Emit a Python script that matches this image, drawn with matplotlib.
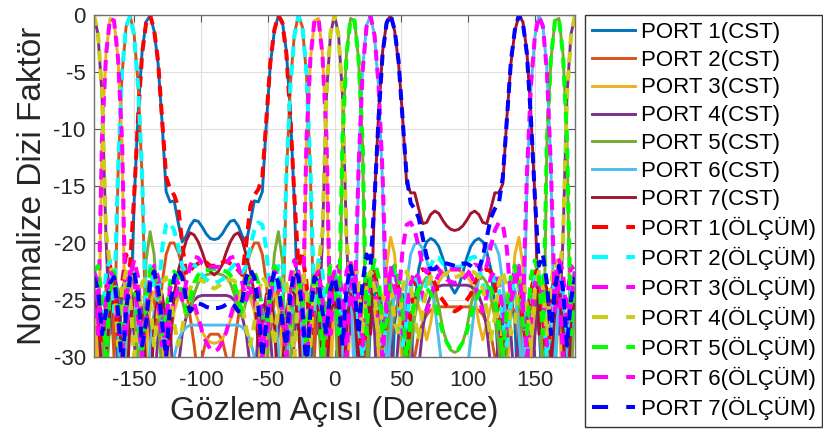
import numpy as np
import matplotlib
matplotlib.use('Agg')
import matplotlib.pyplot as plt
from matplotlib.lines import Line2D

plt.rcParams['font.family'] = ['Liberation Sans', 'DejaVu Sans']
plt.rcParams['axes.unicode_minus'] = False

# observation angle grid (degrees)
angle_deg = list(range(-180, 181, 3))

# ---- CST (simulated) normalised array factor, dB ----
port1_cst = [-25, -27, -35, -27, -24.5, -26, -31, -24, -23, -28, -16.5, -8.7, -3.2, -0.6, -0.05, -1.4, -4.3, -9.5, -15.5, -16.4, -16.3, -18.2, -19.9, -19.4, -18.5, -18.0, -18.1, -18.6, -19.2, -19.6, -19.7,
             -19.6, -19.2, -18.6, -18.1, -18.0, -18.5, -19.4, -19.9, -18.2, -16.3, -16.4, -15.5, -9.5, -4.3, -1.4, -0.05, -0.6, -3.2, -8.7, -16.5, -28, -23, -24, -31, -26, -24.5, -27, -35, -27, -25, -26, -32, -30, -26, -24.8, -25.5, -30, -34, -27, -24.5, -24, -26, -31, -35, -27, -24.5, -24.5, -27, -31, -25.5, -22.3, -20.8, -19.9, -19.6, -19.8, -20.3, -21.3, -22.6, -23.8,
             -24.4, -23.8, -22.6, -21.3, -20.3, -19.8, -19.6, -19.9, -20.8, -22.3, -25.5, -31, -27, -24.5, -24.5, -27, -35, -31, -26, -24, -24.5, -27, -34, -30, -25.5, -24.8, -26, -30, -32, -26, -25]
port2_cst = [-25, -28, -31, -24, -23, -30, -14, -5.2, -1.05, -0.02, -1.65, -6.0, -14.2, -29, -24, -25, -28, -23.5, -21.0, -20.0, -20.0, -20.8, -22, -24, -26.5, -29, -32, -30, -28.5, -28, -28,
             -28, -28.5, -30, -32, -29, -26.5, -24, -22, -20.8, -20.0, -20.0, -21.0, -23.5, -28, -25, -24, -29, -14.2, -6.0, -1.65, -0.02, -1.05, -5.2, -14, -30, -23, -24, -31, -28, -25, -26, -32, -29, -25.5, -25, -28, -34, -28, -25, -24.8, -27, -31, -35, -29, -26, -25.5, -27, -30, -34, -30, -28, -27, -26.3, -25.9, -25.7, -25.6, -25.6, -25.6, -25.6,
             -25.6, -25.6, -25.6, -25.6, -25.6, -25.7, -25.9, -26.3, -27, -28, -30, -34, -30, -27, -25.5, -26, -29, -35, -31, -27, -24.8, -25, -28, -34, -28, -25, -25.5, -29, -32, -26, -25]
port3_cst = [-24, -33, -10.6, -3.4, -0.3, -0.5, -3.9, -11.3, -33, -25, -22.5, -24, -31, -30, -25.5, -24.3, -25.5, -29, -33, -28.5, -26, -24.8, -24.4, -24.5, -25.0, -25.9, -26.8, -27.8, -28.4, -28.7, -28.8,
             -28.7, -28.4, -27.8, -26.8, -25.9, -25.0, -24.5, -24.4, -24.8, -26, -28.5, -33, -29, -25.5, -24.3, -25.5, -30, -31, -24, -22.5, -25, -33, -11.3, -3.9, -0.5, -0.3, -3.4, -10.6, -33, -24, -23.5, -27, -33, -26.5, -25, -28, -35, -28, -25.5, -26, -30, -33, -22, -19.5, -21, -26, -32, -30, -26.5, -25, -25.5, -27, -28.5, -27, -24.8, -23.4, -22.9, -22.6, -22.4,
             -22.4, -22.4, -22.6, -22.9, -23.4, -24.8, -27, -28.5, -27, -25.5, -25, -26.5, -30, -32, -26, -21, -19.5, -22, -33, -30, -26, -25.5, -28, -35, -28, -25, -26.5, -33, -27, -23.5, -24]
port4_cst = [0, -1.7, -7.0, -19.6, -28, -22.5, -24.5, -33, -26.5, -25, -28, -36, -27.5, -26, -27.5, -33, -28, -25.3, -25.5, -27.5, -33, -31, -28, -26.5, -25.5, -25.0, -24.7, -24.6, -24.6, -24.6, -24.6,
             -24.6, -24.6, -24.6, -24.7, -25.0, -25.5, -26.5, -28, -31, -33, -27.5, -25.5, -25.3, -28, -33, -27.5, -26, -27.5, -36, -28, -25, -26.5, -33, -24.5, -22.5, -28, -19.6, -7.0, -1.7, 0, -1.7, -7.0, -19.6, -28, -22.5, -24.5, -33, -26.5, -25, -28, -36, -27.5, -26, -27.5, -33, -28, -25.3, -25.5, -27.5, -33, -31, -27.5, -25.6, -24.6, -24.1, -23.8, -23.7, -23.7, -23.7,
             -23.7, -23.7, -23.7, -23.7, -23.8, -24.1, -24.6, -25.6, -27.5, -31, -33, -27.5, -25.5, -25.3, -28, -33, -27.5, -26, -27.5, -36, -28, -25, -26.5, -33, -24.5, -22.5, -28, -19.6, -7.0, -1.7, 0]
port5_cst = [-24, -23.5, -27, -33, -26.5, -25, -28, -35, -28, -25.5, -26, -30, -33, -21.5, -19, -21, -26, -32, -30, -26.5, -25, -24.5, -25, -26.5, -26, -24.5, -23.5, -23.0, -22.8, -22.7, -22.7,
             -22.7, -22.8, -23.0, -23.5, -24.5, -26, -26.5, -25, -24.5, -25, -26.5, -30, -32, -26, -21, -19, -21.5, -33, -30, -26, -25.5, -28, -35, -28, -25, -26.5, -33, -27, -23.5, -24, -33, -10.6, -3.4, -0.3, -0.5, -3.9, -11.3, -33, -25, -22.5, -24, -31, -30, -25.5, -24.3, -25.5, -29, -33, -29, -26.5, -24.8, -23.5, -23.0, -23.2, -24.0, -25.5, -27.5, -28.7, -29.4,
             -29.6, -29.4, -28.7, -27.5, -25.5, -24.0, -23.2, -23.0, -23.5, -24.8, -26.5, -29, -33, -29, -25.5, -24.3, -25.5, -30, -31, -24, -22.5, -25, -33, -11.3, -3.9, -0.5, -0.3, -3.4, -10.6, -33, -24]
port6_cst = [-25, -26, -32, -29, -25.5, -25, -28, -34, -28, -25, -24.8, -27, -31, -35, -29, -26, -25.5, -27, -30, -34, -30, -28.5, -27.8, -27.4, -27.2, -27.2, -27.2, -27.2, -27.2, -27.2, -27.2,
             -27.2, -27.2, -27.2, -27.2, -27.2, -27.2, -27.4, -27.8, -28.5, -30, -34, -30, -27, -25.5, -26, -29, -35, -31, -27, -24.8, -25, -28, -34, -28, -25, -25.5, -29, -32, -26, -25, -28, -31, -24, -23, -33, -13.2, -4.8, -0.9, -0.05, -1.9, -6.4, -15, -32, -28, -24, -25, -28, -23.5, -21.0, -20.1, -20.0, -20.5, -21.5, -23.0, -25.5, -28.5, -31.5, -33.5, -35,
             -36, -35, -33.5, -31.5, -28.5, -25.5, -23.0, -21.5, -20.5, -20.0, -20.1, -21.0, -23.5, -28, -25, -24, -28, -32, -15, -6.4, -1.9, -0.05, -0.9, -4.8, -13.2, -33, -23, -24, -31, -28, -25]
port7_cst = [-25, -26, -32, -30, -26, -24.8, -25.5, -30, -34, -27, -24.5, -24, -26, -31, -34, -27, -24.5, -24.5, -27, -29, -24.5, -22.5, -21.1, -19.8, -19.1, -19.3, -19.9, -20.8, -21.9, -22.5, -22.8,
             -22.5, -21.9, -20.8, -19.9, -19.3, -19.1, -19.8, -21.1, -22.5, -24.5, -29, -27, -24.5, -24.5, -27, -34, -31, -26, -24, -24.5, -27, -34, -30, -25.5, -24.8, -26, -30, -32, -26, -25, -27, -35, -27, -24.5, -26, -31, -24, -23, -28, -16.0, -8.7, -3.2, -0.6, -0.05, -1.4, -4.3, -9.0, -14.8, -15.6, -15.6, -17.0, -18.3, -18.2, -17.5, -17.2, -17.4, -18.0, -18.5, -18.8,
             -18.9, -18.8, -18.5, -18.0, -17.4, -17.2, -17.5, -18.2, -18.3, -17.0, -15.6, -15.6, -14.8, -9.0, -4.3, -1.4, -0.05, -0.6, -3.2, -8.7, -16.0, -28, -23, -24, -31, -26, -24.5, -27, -35, -27, -25]

# ---- measured (ÖLÇÜM) normalised array factor, dB ----
port1_meas = [-23, -25, -29, -24, -22, -24, -28, -23.5, -21, -22, -16.0, -9.0, -3.4, -0.7, 0, -1.3, -4.1, -9.2, -14.2, -15.3, -15.8, -16.8, -20, -22.8, -22.4, -22, -21.8, -21.6, -21.7, -22, -22,
              -22, -21.7, -21.6, -21.8, -22, -22.4, -22.8, -20, -16.8, -15.8, -15.3, -14.2, -9.2, -4.1, -1.3, 0, -0.7, -3.4, -9.0, -16.0, -22, -21, -23.5, -28, -24, -22, -24, -29, -25, -23, -24, -28, -26, -23.5, -23, -26, -31, -26, -23, -22.5, -24.5, -29, -27, -23.5, -22.5, -24, -28, -30, -26, -23.5, -22.5, -22.3, -22.5, -22.8, -23.5, -24.5, -25, -25.5, -25.8,
              -26, -25.8, -25.5, -25, -24.5, -23.5, -22.8, -22.5, -22.3, -22.5, -23.5, -26, -30, -28, -24, -22.5, -23.5, -27, -29, -24.5, -22.5, -23, -26, -31, -26, -23, -23.5, -26, -28, -24, -23]
port2_meas = [-22.5, -25, -27, -22.5, -21.5, -26, -13.5, -5.0, -1.0, -0.1, -1.8, -6.2, -14.0, -26, -22, -24, -25, -20.5, -18.4, -18.2, -18.9, -20.3, -22, -22.6, -22.0, -21.9, -22.3, -22.8, -23.2, -23.4, -23.5,
              -23.4, -23.2, -22.8, -22.3, -21.9, -22.0, -22.6, -22, -20.3, -18.9, -18.2, -18.4, -20.5, -25, -24, -22, -26, -14.0, -6.2, -1.8, -0.1, -1.0, -5.0, -13.5, -26, -21.5, -22.5, -27, -25, -22.5, -23.5, -28, -25, -22.5, -23, -27, -30, -25, -22.5, -23, -26.5, -30, -26, -23, -22.5, -25, -29, -27, -24, -23, -23.5, -25, -23.5, -22, -21.2, -21.3, -21.8, -22.0, -22.1,
              -22.1, -22.1, -22.0, -21.8, -21.3, -21.2, -22, -23.5, -25, -23.5, -23, -24, -27, -29, -25, -22.5, -23, -26, -30, -26.5, -23, -22.5, -25, -30, -27, -23, -22.5, -25, -28, -23.5, -22.5]
port3_meas = [-22.5, -28, -10.8, -3.5, -0.3, -0.5, -3.8, -11.0, -28, -23, -21.5, -23, -28, -27, -23.5, -22, -23, -26, -30, -27, -25, -24, -23.8, -24, -24.4, -25.3, -26.5, -27.8, -28.7, -29.3, -29.5,
              -29.3, -28.7, -27.8, -26.5, -25.3, -24.4, -24, -23.8, -24, -25, -27, -30, -26, -23, -22, -23.5, -27, -28, -23, -21.5, -23, -28, -11.0, -3.8, -0.5, -0.3, -3.5, -10.8, -28, -22.5, -22, -25, -30, -24, -22.5, -25, -29, -25, -23, -23.5, -27, -30, -25, -22.5, -22, -24.5, -28, -26, -23.5, -22.5, -23, -24.5, -26, -25, -23.5, -22.8, -22.5, -22.4, -22.3,
              -22.3, -22.3, -22.4, -22.5, -22.8, -23.5, -25, -26, -24.5, -23, -22.5, -23.5, -26, -28, -24.5, -22, -22.5, -25, -30, -27, -23.5, -23, -25, -29, -25, -22.5, -24, -30, -25, -22, -22.5]
port4_meas = [0, -1.6, -6.8, -19.0, -22, -23, -29, -24, -22.5, -24.5, -30, -27, -23.5, -23, -25, -29, -26, -23.5, -23, -24.5, -27, -29, -27.5, -25.5, -24, -23.3, -23.2, -23.3, -23.5, -23.8, -24,
              -23.8, -23.5, -23.3, -23.2, -23.3, -24, -25.5, -27.5, -29, -27, -24.5, -23, -23.5, -26, -29, -25, -23, -23.5, -27, -30, -24.5, -22.5, -24, -29, -23, -22, -19.0, -6.8, -1.6, 0, -1.8, -7.2, -19.8, -23, -21.5, -23.5, -28, -24, -22.5, -24, -29, -25.5, -23, -23.5, -27, -28, -24, -22.5, -23.5, -26.5, -28.5, -26, -24, -23, -22.6, -22.5, -22.6, -22.8, -22.9,
              -23, -22.9, -22.8, -22.6, -22.5, -22.6, -23, -24, -26, -28.5, -26.5, -23.5, -22.5, -24, -28, -27, -23.5, -23, -25.5, -29, -24, -22.5, -24, -28, -23.5, -21.5, -23, -19.8, -7.2, -1.8, 0]
port5_meas = [-22.5, -22, -25, -30, -24, -22.5, -25, -29, -25, -23, -23.5, -27, -30, -25, -22.5, -22, -24.5, -28, -26, -23.5, -22.5, -23, -24.5, -26, -25, -23.5, -22.8, -22.5, -22.4, -22.3, -22.3,
              -22.3, -22.4, -22.5, -22.8, -23.5, -25, -26, -24.5, -23, -22.5, -23.5, -26, -28, -24.5, -22, -22.5, -25, -30, -27, -23.5, -23, -25, -29, -25, -22.5, -24, -30, -25, -22, -22.5, -28, -10.8, -3.5, -0.3, -0.5, -3.8, -11.0, -28, -23, -21.5, -23, -28, -27, -23.5, -22, -23, -26, -30, -27, -25, -24, -23.8, -24, -24.4, -25.3, -26.5, -27.8, -28.7, -29.3,
              -29.5, -29.3, -28.7, -27.8, -26.5, -25.3, -24.4, -24, -23.8, -24, -25, -27, -30, -26, -23, -22, -23.5, -27, -28, -23, -21.5, -23, -28, -11.0, -3.8, -0.5, -0.3, -3.5, -10.8, -28, -22.5]
port6_meas = [-22.5, -23.5, -28, -25, -22.5, -23, -27, -30, -25, -22.5, -23, -26.5, -30, -26, -23, -22.5, -25, -29, -27, -24, -23, -23.5, -25, -23.5, -22, -21.2, -21.3, -21.8, -22.0, -22.1, -22.1,
              -22.1, -22.0, -21.8, -21.3, -21.2, -22, -23.5, -25, -23.5, -23, -24, -27, -29, -25, -22.5, -23, -26, -30, -26.5, -23, -22.5, -25, -30, -27, -23, -22.5, -25, -28, -23.5, -22.5, -25, -27, -22.5, -21.5, -26, -13.5, -5.0, -1.0, -0.1, -1.8, -6.2, -14.0, -26, -22, -24, -25, -20.5, -18.4, -18.2, -18.9, -20.3, -22, -22.6, -22.0, -21.9, -22.3, -22.8, -23.2, -23.4,
              -23.5, -23.4, -23.2, -22.8, -22.3, -21.9, -22.0, -22.6, -22, -20.3, -18.9, -18.2, -18.4, -20.5, -25, -24, -22, -26, -14.0, -6.2, -1.8, -0.1, -1.0, -5.0, -13.5, -26, -21.5, -22.5, -27, -25, -22.5]
port7_meas = [-23, -24, -28, -26, -23.5, -23, -26, -31, -26, -23, -22.5, -24.5, -29, -27, -23.5, -22.5, -24, -27, -30, -25.5, -23, -22.3, -23, -25, -26, -25.5, -25.3, -25.4, -25.6, -25.7, -25.7,
              -25.7, -25.6, -25.4, -25.3, -25.5, -26, -25, -23, -22.3, -23, -25.5, -30, -27, -24, -22.5, -23.5, -27, -29, -24.5, -22.5, -23, -26, -31, -26, -23, -23.5, -26, -28, -24, -23, -25, -29, -24, -22, -24, -28, -23.5, -21, -22, -16.0, -9.0, -3.4, -0.7, 0, -1.3, -4.1, -9.2, -14.2, -16.5, -17.0, -17.8, -19.5, -21.2, -22.3, -22.3, -22, -21.8, -21.8, -21.9,
              -22, -21.9, -21.8, -21.8, -22, -22.3, -22.3, -21.2, -19.5, -17.8, -17.0, -16.5, -14.2, -9.2, -4.1, -1.3, 0, -0.7, -3.4, -9.0, -16.0, -22, -21, -23.5, -28, -24, -22, -24, -29, -25, -23]

cst_series = [port1_cst, port2_cst, port3_cst, port4_cst, port5_cst, port6_cst, port7_cst]
meas_series = [port1_meas, port2_meas, port3_meas, port4_meas, port5_meas, port6_meas, port7_meas]
cst_labels = [f'PORT {k}(CST)' for k in range(1, 8)]
meas_labels = [f'PORT {k}(ÖLÇÜM)' for k in range(1, 8)]
cst_colors = ['#0072BD', '#D95319', '#EDB120', '#7E2F8E', '#77AC30', '#4DBEEE', '#A2142F']
meas_colors = ['#FF0000', '#00FFFF', '#FF00FF', '#CCCC1A', '#00FF00', '#FF00FF', '#0000FF']

fig = plt.figure(figsize=(8.23, 4.41), dpi=100)
ax = fig.add_axes([94 / 823, 84 / 441, 481 / 823, 342 / 441])

handles = []
for vals, col, lab in zip(cst_series, cst_colors, cst_labels):
    ln, = ax.plot(angle_deg, vals, color=col, lw=2.1, solid_joinstyle='round', label=lab)
    handles.append(ln)
for vals, col, lab in zip(meas_series, meas_colors, meas_labels):
    ax.plot(angle_deg, vals, color=col, lw=2.9, linestyle=(0, (2.7, 1.8)),
            dash_capstyle='butt', dash_joinstyle='round', label=lab)
    # legend proxy with the longer MATLAB-style legend dash
    handles.append(Line2D([], [], color=col, lw=2.9, linestyle=(0, (4.0, 4.5)),
                          dash_capstyle='butt', label=lab))

ax.set_xlim(-180, 180)
ax.set_ylim(-30, 0)
ax.set_xticks([-150, -100, -50, 0, 50, 100, 150])
ax.set_yticks([-30, -25, -20, -15, -10, -5, 0])
ax.grid(True, color='#e0e0e0', lw=0.8)
ax.set_axisbelow(True)
ax.tick_params(direction='in', top=True, right=True, length=5, width=0.8,
               labelsize=16, labelcolor='#262626', color='#555555')
ax.tick_params(axis='x', pad=9)
ax.tick_params(axis='y', pad=6)
for sp in ax.spines.values():
    sp.set_color('#707070')
    sp.set_linewidth(1.0)
ax.set_xlabel('Gözlem Açısı (Derece)', fontsize=23.5, color='#262626', labelpad=4)
ax.set_ylabel('Normalize Dizi Faktör', fontsize=24, color='#262626', labelpad=4)

leg = ax.legend(handles=handles, loc='upper left',
                bbox_to_anchor=(585 / 823, 1 - 15 / 441),
                bbox_transform=fig.transFigure, fontsize=16, frameon=True,
                fancybox=False, edgecolor='#333333', framealpha=1,
                borderaxespad=0, borderpad=0.3, handlelength=1.95,
                handletextpad=0.25, labelspacing=0.31)
leg.get_frame().set_linewidth(1.0)

fig.savefig('out.png', dpi=100)
